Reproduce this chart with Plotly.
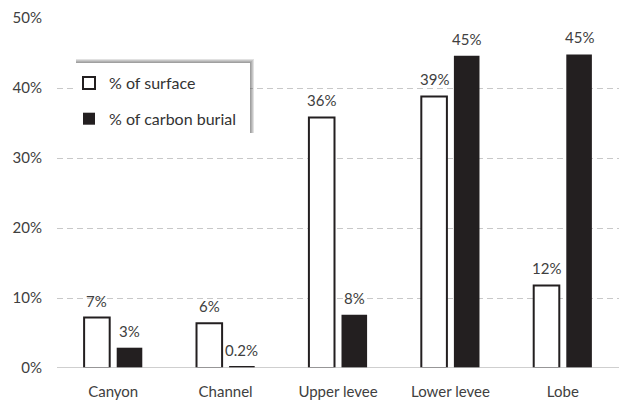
import plotly.graph_objects as go

# Share of seafloor surface vs. share of organic carbon burial per depositional setting
categories = ["Canyon", "Channel", "Upper levee", "Lower levee", "Lobe"]
surface_pct = [7.2, 6.4, 35.8, 38.8, 11.8]
burial_pct = [2.9, 0.2, 7.6, 44.6, 44.8]
y_ticks = [0, 10, 20, 30, 40, 50]
y_tick_labels = ["0%", "10%", "20%", "30%", "40%", "50%"]

FONT = "Lato, 'Open Sans', sans-serif"
TEXT_COLOR = "#404040"
DARK = "#231f20"
AXIS_GREY = "#bfbfbf"

BARGAP = 0.42
GROUPGAP = 0.215

# plot-area geometry in pixels (used to place the legend box and its shadow)
PL, PT, PW, PH = 57, 18, 562, 350


def px_x(x):
    return (x - PL) / PW


def px_y(y):
    return (PT + PH - y) / PH


def fmt(v):
    return f"{v:.0f}%" if v >= 1 else f"{v:.1f}%"


fig = go.Figure()
fig.add_trace(go.Bar(
    x=categories, y=surface_pct, name="% of surface", legendgroup="a",
    marker=dict(color="white", line=dict(color=DARK, width=2)),
))
fig.add_trace(go.Bar(
    x=categories, y=burial_pct, name="% of carbon burial", legendgroup="b",
    marker=dict(color=DARK, line=dict(width=0)),
))

# value labels above each bar
offset = (1 - BARGAP) / 4
annotations = []
for i, (s, b) in enumerate(zip(surface_pct, burial_pct)):
    for x, v in ((i - offset, s), (i + offset, b)):
        annotations.append(dict(
            x=x, y=v, xref="x", yref="y", text=fmt(v), showarrow=False,
            yanchor="middle", yshift=17,
            font=dict(family=FONT, size=15, color=TEXT_COLOR),
        ))

# legend panel: soft shadow cast up/right, then the white box itself
BOX_L, BOX_R, BOX_T, BOX_B = 73, 250, 63, 136
shapes = []
for k in range(4):
    shapes.append(dict(
        type="rect", xref="paper", yref="paper", layer="above",
        x0=px_x(BOX_L + 3), x1=px_x(BOX_R + 1 + k),
        y0=px_y(BOX_B - 3), y1=px_y(BOX_T - 1 - k),
        fillcolor="rgba(70,70,70,0.16)", line=dict(width=0),
    ))
shapes.append(dict(
    type="rect", xref="paper", yref="paper", layer="above",
    x0=px_x(BOX_L), x1=px_x(BOX_R), y0=px_y(BOX_B), y1=px_y(BOX_T),
    fillcolor="white", line=dict(width=0),
))
# baseline drawn over the bars
shapes.append(dict(
    type="line", xref="paper", yref="y", layer="above",
    x0=0, x1=1, y0=0, y1=0, line=dict(color=AXIS_GREY, width=1.5),
))

fig.update_layout(
    width=619, height=400,
    margin=dict(l=PL, r=619 - PL - PW, t=PT, b=400 - PT - PH),
    paper_bgcolor="white", plot_bgcolor="white",
    barmode="group", bargap=BARGAP, bargroupgap=GROUPGAP,
    font=dict(family=FONT, size=15, color=TEXT_COLOR),
    showlegend=True,
    legend=dict(
        x=px_x(BOX_L - 4), y=px_y(BOX_T + 3), xanchor="left", yanchor="top",
        bgcolor="rgba(0,0,0,0)", borderwidth=0, tracegroupgap=12,
        font=dict(family=FONT, size=16, color="#333333"),
        itemwidth=30,
    ),
    annotations=annotations,
    shapes=shapes,
    xaxis=dict(
        showgrid=False, showline=False, ticks="",
        tickfont=dict(family=FONT, size=15, color=TEXT_COLOR),
        ticklabelstandoff=13,
    ),
    yaxis=dict(
        range=[0, 50], tickvals=y_ticks, ticktext=y_tick_labels,
        showgrid=True, gridcolor="#c8c8c8", gridwidth=1, griddash="6px,4px",
        zeroline=False, showline=False, ticks="",
        tickfont=dict(family=FONT, size=15, color=TEXT_COLOR),
        ticklabelstandoff=14,
    ),
)

fig.write_html("out.html")
